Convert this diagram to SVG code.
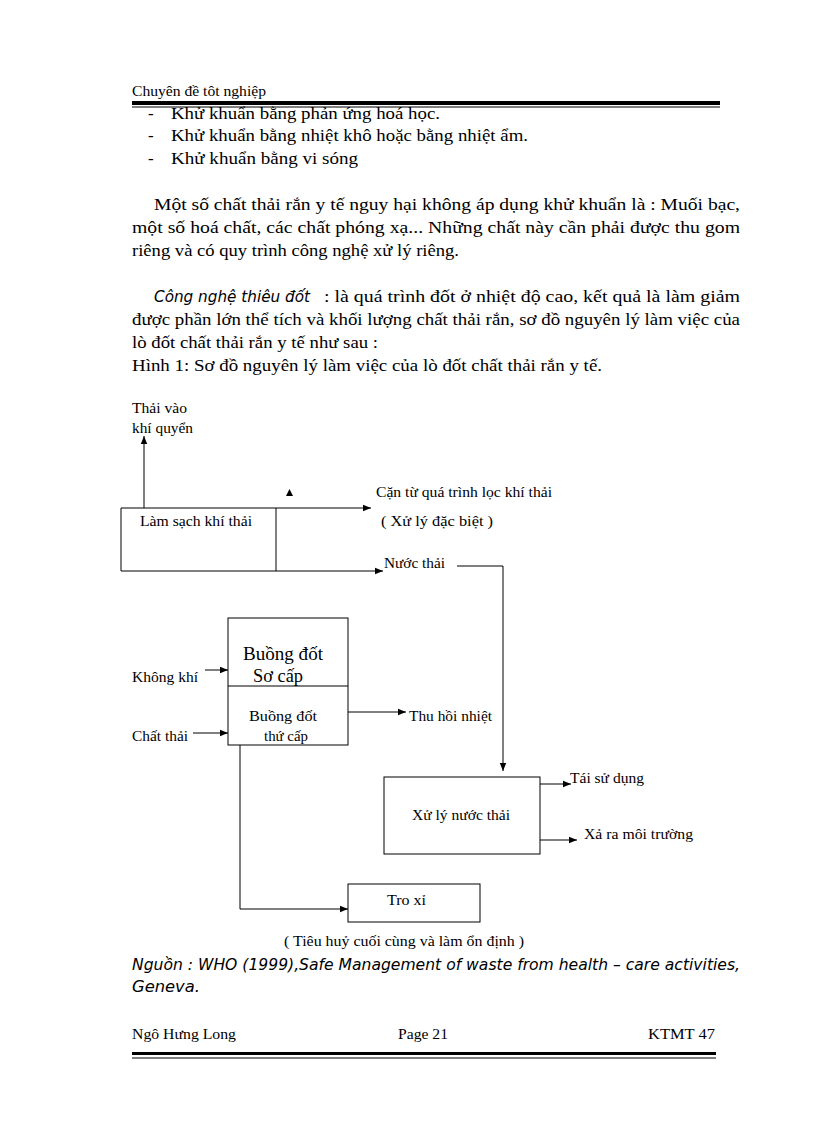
<svg xmlns="http://www.w3.org/2000/svg" width="816" height="1123" viewBox="0 0 816 1123">
<defs>
<marker id="ah" viewBox="0 0 10 10" refX="10" refY="5" markerWidth="8" markerHeight="8" markerUnits="userSpaceOnUse" orient="auto">
<path d="M0,1 L10,5 L0,9 z" fill="#000"/>
</marker>
</defs>
<style>
.t{font-family:"Liberation Serif","Times New Roman",serif;fill:#000}
.b{font-size:17px}
.s{font-size:14px}
.m{font-size:18px}
.it{font-family:"DejaVu Sans","Liberation Sans",sans-serif;font-style:italic;font-size:15px;fill:#000}
.ln{stroke:#000;stroke-width:1;fill:none}
.box{stroke:#000;stroke-width:1;fill:#fff}
.ar{stroke:#000;stroke-width:1;fill:none;marker-end:url(#ah)}
</style>
<rect width="816" height="1123" fill="#fff"/>

<g id="header">
<text class="t s" x="132" y="96" textLength="134" lengthAdjust="spacingAndGlyphs">Chuyên  đề tôt nghiệp</text>
<rect x="132" y="101" width="588" height="4" fill="#000"/>
<rect x="132" y="106.5" width="588" height="1" fill="#000"/>
</g>

<g id="body">
<text class="t b" x="148" y="119">-</text><text class="t b" x="171" y="119" textLength="269" lengthAdjust="spacingAndGlyphs">Khử khuẩn bằng phản ứng hoá học.</text>
<text class="t b" x="148" y="141">-</text><text class="t b" x="171" y="141" textLength="357" lengthAdjust="spacingAndGlyphs">Khử khuẩn bằng nhiệt khô hoặc bằng nhiệt  ẩm.</text>
<text class="t b" x="148" y="164">-</text><text class="t b" x="171" y="164" textLength="187" lengthAdjust="spacingAndGlyphs">Khử khuẩn bằng vi sóng</text>
<text class="t b" x="154" y="210" textLength="586" lengthAdjust="spacingAndGlyphs">Một số chất thải rắn y tế nguy hại không áp dụng khử khuẩn là : Muối bạc,</text>
<text class="t b" x="132" y="233" textLength="608" lengthAdjust="spacingAndGlyphs">một số hoá chất, các chất phóng xạ... Những chất này cần phải được thu gom</text>
<text class="t b" x="132" y="256" textLength="327" lengthAdjust="spacingAndGlyphs">riêng và có quy trình công nghệ xử lý riêng.</text>
<text class="it" x="154" y="302" textLength="156" lengthAdjust="spacingAndGlyphs">Công nghệ thiêu đốt</text>
<text class="t b" x="324" y="302" textLength="416" lengthAdjust="spacingAndGlyphs">: là  quá trình đốt ở nhiệt  độ cao, kết  quả là làm  giảm</text>
<text class="t b" x="132" y="325" textLength="608" lengthAdjust="spacingAndGlyphs">được phần lớn thể tích và khối lượng  chất thải rắn, sơ đồ nguyên lý làm việc của</text>
<text class="t b" x="132" y="348" textLength="246" lengthAdjust="spacingAndGlyphs">lò  đốt chất thải rắn y tế như sau :</text>
<text class="t b" x="132" y="371" textLength="470" lengthAdjust="spacingAndGlyphs">Hình 1:  Sơ đồ nguyên lý làm việc của lò đốt chất thải rắn y tế.</text>
</g>

<g id="connectors">
<line class="ar" x1="144" y1="508" x2="144" y2="436"/>
<line class="ar" x1="276" y1="508" x2="371" y2="508"/>
<line class="ar" x1="276" y1="571" x2="383" y2="571"/>
<polyline class="ar" points="457,566 503,566 503,771"/>
<line class="ar" x1="205" y1="670" x2="228" y2="670"/>
<line class="ar" x1="193" y1="733" x2="228" y2="733"/>
<line class="ar" x1="348" y1="712" x2="406" y2="712"/>
<polyline class="ar" points="240,745 240,909 348,909"/>
<line class="ar" x1="540" y1="784" x2="571" y2="784"/>
<line class="ar" x1="540" y1="840" x2="577" y2="840"/>
<path d="M286,496 L289.5,489 L293,496 z" fill="#000"/>
</g>

<g id="node-lamsach">
<polyline class="ln" points="276,508 121,508 121,571 276,571"/>
<line class="ln" x1="276" y1="508" x2="276" y2="571"/>
<text class="t s" x="140" y="526" textLength="112" lengthAdjust="spacingAndGlyphs">Làm  sạch khí  thải</text>
</g>
<g id="label-thaivao">
<text class="t s" x="132" y="413" textLength="55" lengthAdjust="spacingAndGlyphs">Thải  vào</text>
<text class="t s" x="132" y="433" textLength="61" lengthAdjust="spacingAndGlyphs">khí  quyển</text>
</g>
<g id="label-can">
<text class="t s" x="376" y="497" textLength="176" lengthAdjust="spacingAndGlyphs">Cặn từ quá trình  lọc  khí  thải</text>
<text class="t s" x="381" y="526" textLength="112" lengthAdjust="spacingAndGlyphs">( Xử lý đặc biệt )</text>
</g>
<g id="label-nuocthai">
<text class="t s" x="384" y="568" textLength="61" lengthAdjust="spacingAndGlyphs">Nước thải</text>
</g>
<g id="node-buongdot">
<rect class="box" x="228" y="618" width="120" height="127"/>
<line class="ln" x1="228" y1="686" x2="348" y2="686"/>
<text class="t m" x="243" y="660" textLength="80" lengthAdjust="spacingAndGlyphs">Buồng đốt</text>
<text class="t m" x="253" y="682" textLength="50" lengthAdjust="spacingAndGlyphs">Sơ cấp</text>
<text class="t s" x="249" y="721" textLength="68" lengthAdjust="spacingAndGlyphs">Buồng  đốt</text>
<text class="t s" x="264" y="741" textLength="44" lengthAdjust="spacingAndGlyphs">thứ cấp</text>
</g>
<g id="label-khongkhi"><text class="t s" x="132" y="682" textLength="66" lengthAdjust="spacingAndGlyphs">Không  khí</text></g>
<g id="label-chatthai"><text class="t s" x="132" y="741" textLength="56" lengthAdjust="spacingAndGlyphs">Chất thải</text></g>
<g id="label-thuhoi"><text class="t s" x="409" y="721" textLength="83" lengthAdjust="spacingAndGlyphs">Thu  hồi  nhiệt</text></g>
<g id="node-xuly">
<rect class="box" x="384" y="777" width="156" height="77"/>
<text class="t s" x="412" y="820" textLength="98" lengthAdjust="spacingAndGlyphs">Xử lý  nước  thải</text>
</g>
<g id="label-taisudung"><text class="t s" x="570" y="783" textLength="74" lengthAdjust="spacingAndGlyphs">Tái  sử  dụng</text></g>
<g id="label-xara"><text class="t s" x="584" y="839" textLength="109" lengthAdjust="spacingAndGlyphs">Xả ra môi  trường</text></g>
<g id="node-troxi">
<rect class="box" x="348" y="884" width="132" height="38"/>
<text class="t s" x="387" y="905" textLength="39" lengthAdjust="spacingAndGlyphs">Tro xỉ</text>
</g>
<g id="label-tieuhuy"><text class="t s" x="284" y="946" textLength="240" lengthAdjust="spacingAndGlyphs">( Tiêu  huỷ  cuối  cùng  và làm  ổn định )</text></g>

<g id="source">
<text class="it" x="132" y="970" textLength="608" lengthAdjust="spacingAndGlyphs">Nguồn : WHO (1999),Safe Management of waste from health – care activities,</text>
<text class="it" x="132" y="992" textLength="68" lengthAdjust="spacingAndGlyphs">Geneva.</text>
</g>

<g id="footer">
<text class="t s" x="132" y="1039" textLength="104" lengthAdjust="spacingAndGlyphs">Ngô Hưng Long</text>
<text class="t s" x="398" y="1039" textLength="50" lengthAdjust="spacingAndGlyphs">Page 21</text>
<text class="t s" x="648" y="1039" textLength="67" lengthAdjust="spacingAndGlyphs">KTMT 47</text>
<rect x="132" y="1052" width="584" height="3" fill="#000"/>
<rect x="132" y="1057.5" width="584" height="1" fill="#000"/>
</g>
</svg>
